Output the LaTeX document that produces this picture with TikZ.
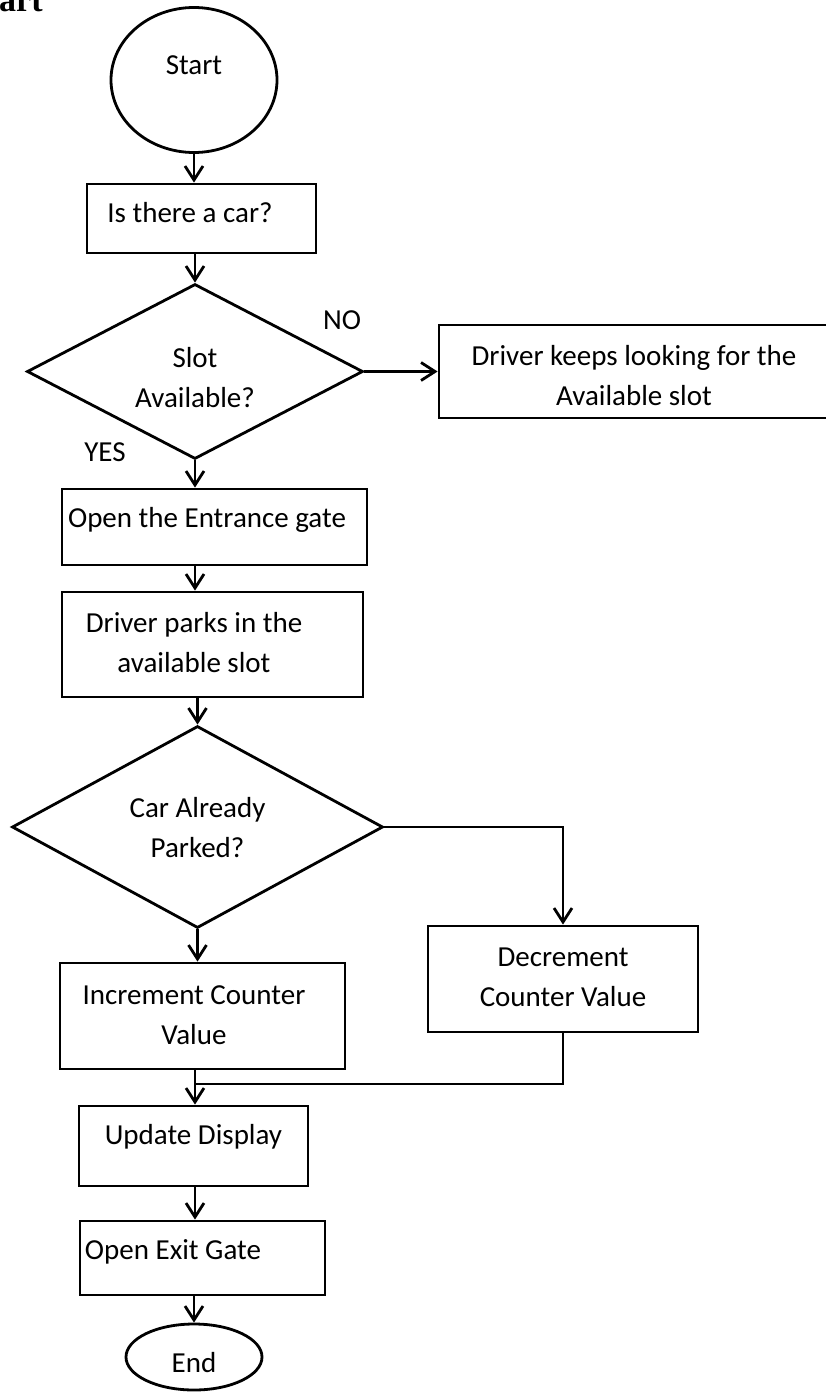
\documentclass[tikz,border=0pt]{standalone}
\usepackage{fontspec}
\setmainfont{Carlito}
\newfontfamily\headfont{Liberation Serif}
\usetikzlibrary{shapes.geometric,arrows.meta}

\begin{document}
\begin{tikzpicture}[x=0.5pt, y=-0.5pt, line width=1.4pt,
    shp/.style={draw, inner sep=0pt},
    box/.style={shp, rectangle},
    dec/.style={shp, diamond},
    term/.style={shp, ellipse},
    tx/.style={inner sep=0pt, align=center, font=\fontsize{14.5}{20}\selectfont},
    arr/.style={-{Straight Barb[length=7pt, width=9pt]}}]

\useasboundingbox (0,0) rectangle (825,1392);

\node[anchor=base east, inner sep=0pt, font=\headfont\bfseries\fontsize{17}{20}\selectfont] (head) at (44,11) {art};

\node[term, minimum width=83pt, minimum height=72.5pt] (start) at (194,80) {};
\node[tx] (starttx) at (194,65) {Start};

\node[box, minimum width=114.5pt, minimum height=34.5pt] (car) at (201.5,218.5) {};
\node[tx] (cartx) at (190,213) {Is there a car?};

\node[dec, minimum width=168pt, minimum height=87.5pt] (slot) at (195,371.5) {};
\node[tx] (slottx) at (195,378) {Slot\\Available?};
\node[tx] (no) at (342,320) {NO};
\node[tx] (yes) at (105,452) {YES};

\node[box, minimum width=194.5pt, minimum height=46.5pt] (look) at (633.5,371.5) {};
\node[tx] (looktx) at (634,376) {Driver keeps looking for the\\Available slot};

\node[box, minimum width=152.5pt, minimum height=38pt] (entr) at (214.5,527) {};
\node[tx] (entrtx) at (207,520) {Open the Entrance gate};

\node[box, minimum width=150.5pt, minimum height=52.5pt] (park) at (212.5,644.5) {};
\node[tx] (parktx) at (194,643) {Driver parks in the\\available slot};

\node[dec, minimum width=185.5pt, minimum height=101pt] (parked) at (197.5,827) {};
\node[tx] (parkedtx) at (197.5,828) {Car Already\\Parked?};

\node[box, minimum width=135pt, minimum height=53pt] (decr) at (563,979) {};
\node[tx] (decrtx) at (563,977) {Decrement\\Counter Value};

\node[box, minimum width=142.5pt, minimum height=53pt] (incr) at (202.5,1016) {};
\node[tx] (incrtx) at (194,1015) {Increment Counter\\Value};

\node[box, minimum width=114.5pt, minimum height=40pt] (upd) at (193.5,1146) {};
\node[tx] (updtx) at (193.5,1137) {Update Display};

\node[box, minimum width=122.5pt, minimum height=37pt] (exit) at (202.5,1258) {};
\node[tx] (exittx) at (173,1252) {Open Exit Gate};

\node[term, minimum width=68pt, minimum height=33pt] (stop) at (194,1357) {};
\node[tx] (stoptx) at (194,1363) {End};

\coordinate (join) at (195,1084);

\draw[arr] (start.south) -- (start.south |- car.north);
\draw[arr] (slot.north |- car.south) -- (slot.north);
\draw[arr] (slot.east) -- (look.west);
\draw[arr] (slot.south) -- (slot.south |- entr.north);
\draw[arr] (slot.south |- entr.south) -- (slot.south |- park.north);
\draw[arr] (parked.north |- park.south) -- (parked.north);
\draw[arr] (parked.east) -| (decr.north);
\draw[arr] (parked.south) -- (parked.south |- incr.north);
\draw (decr.south) |- (join);
\draw[arr] (join |- incr.south) -- (join |- upd.north);
\draw[arr] (join |- upd.south) -- (join |- exit.north);
\draw[arr] (stop.north |- exit.south) -- (stop.north);

\end{tikzpicture}
\end{document}
